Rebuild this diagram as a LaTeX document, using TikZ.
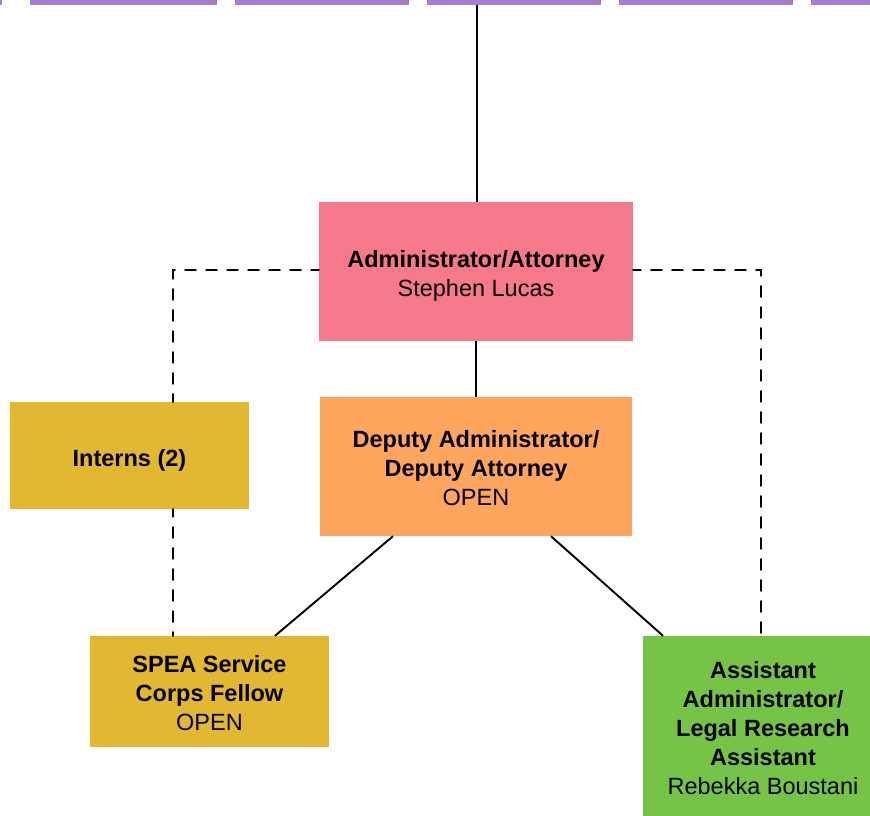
\documentclass[tikz,border=0pt]{standalone}
\usepackage{fontspec}
\setmainfont{Liberation Sans}
\definecolor{barpurple}{HTML}{A87BD8}
\definecolor{adminpink}{HTML}{F67A8C}
\definecolor{deputyorange}{HTML}{FFA65E}
\definecolor{staffyellow}{HTML}{E3B831}
\definecolor{assistgreen}{HTML}{76C446}
% strut on the first line that lowers a text block inside its box
\newcommand{\lowerstrut}[1]{\rule{0pt}{#1}}
\begin{document}
\begin{tikzpicture}[x=1pt,y=-1pt,
  box/.style={rectangle, inner sep=0pt, align=center,
    font=\fontsize{23.5}{29}\selectfont},
  link/.style={line width=1.9pt, black},
  dotlink/.style={line width=2.3pt, black, line cap=round,
    dash pattern=on 10.5pt off 10.5pt, dash phase=3pt}]
\useasboundingbox (0,0) rectangle (870,815);
\clip (0,0) rectangle (870,815);
\fill[white] (0,0) rectangle (870,815);

% row of units along the upper edge
\foreach \a/\b in {-40/2, 30/217, 235/409, 427/601, 619/793, 811/990}
  \fill[barpurple] (\a,-40) rectangle (\b,5);
\coordinate (top) at (477,5);

% positions
\node[box, fill=adminpink, minimum width=314pt, minimum height=139pt]
  (admin) at (476,271.5) {\lowerstrut{25pt}\textbf{Administrator/Attorney}\\Stephen Lucas};
\node[box, fill=deputyorange, minimum width=312pt, minimum height=139pt]
  (deputy) at (476,466.5) {\lowerstrut{21pt}\textbf{Deputy Administrator/}\\\textbf{Deputy Attorney}\\OPEN};
\node[box, fill=staffyellow, minimum width=239pt, minimum height=107pt]
  (interns) at (129.5,455.5) {\lowerstrut{27pt}\textbf{Interns (2)}};
\node[box, fill=staffyellow, minimum width=239pt, minimum height=111pt]
  (spea) at (209.5,691.5) {\lowerstrut{21pt}\textbf{SPEA Service}\\\textbf{Corps Fellow}\\OPEN};
\node[box, fill=assistgreen, minimum width=240pt, minimum height=184pt]
  (assist) at (763,728) {\textbf{Assistant}\\\textbf{Administrator/}\\\textbf{Legal Research}\\\textbf{Assistant}\\Rebekka Boustani};

% reporting lines
\draw[link] (top) -- (top |- admin.north);
\draw[link] (admin.south) -- (deputy.north);
\draw[link] ([xshift=-83pt]deputy.south) -- ([xshift=65.5pt]spea.north);
\draw[link] ([xshift=75pt]deputy.south) -- ([xshift=-100pt]assist.north);

% dotted-line relationships
\coordinate (cl) at (173,270);
\coordinate (cr) at (761,270);
\draw[dotlink] (admin.west |- cl) -- (cl) -- (cl |- interns.north);
\draw[dotlink] (cl |- interns.south) -- (cl |- spea.north);
\draw[dotlink] (admin.east |- cr) -- (cr) -- (cr |- assist.north);
\end{tikzpicture}
\end{document}
